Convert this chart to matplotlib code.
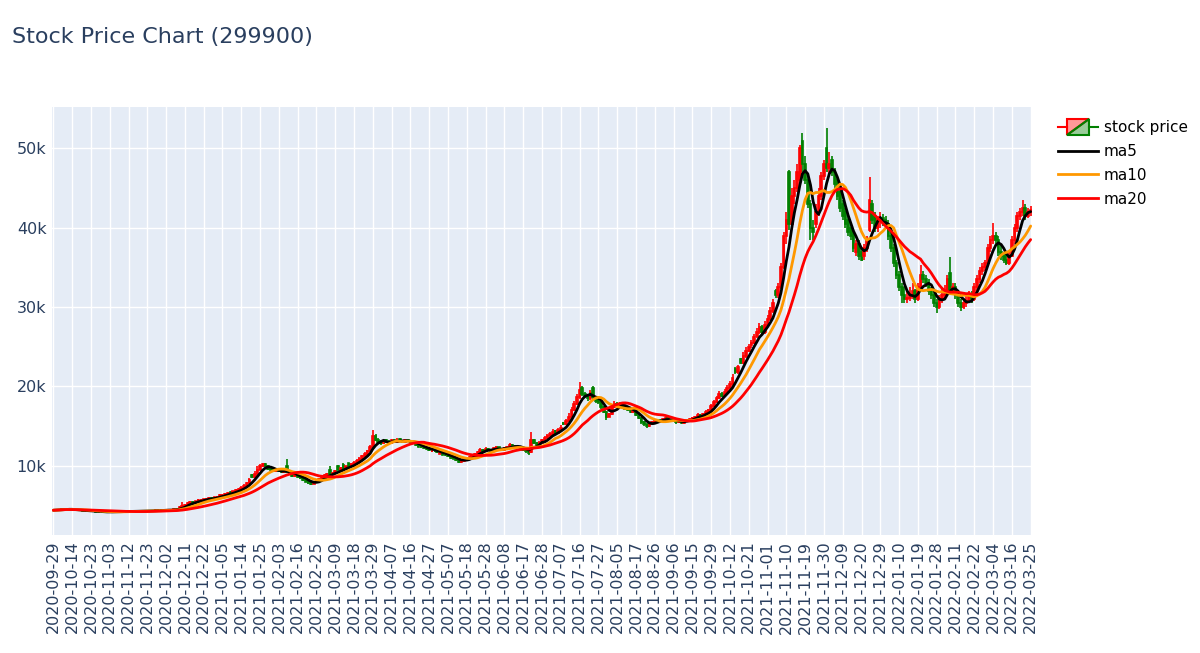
import numpy as np
import pandas as pd
import matplotlib
matplotlib.use("Agg")
import matplotlib.pyplot as plt
from matplotlib.legend_handler import HandlerBase
from matplotlib.lines import Line2D
from matplotlib.patches import Polygon

# ---------------- data ----------------
title = "Stock Price Chart (299900)"
krx_holidays = ["2020-09-30", "2020-10-01", "2020-10-02", "2020-10-09", "2020-12-25", "2020-12-31",
                "2021-01-01", "2021-02-11", "2021-02-12", "2021-03-01", "2021-05-05", "2021-05-19",
                "2021-08-16", "2021-09-20", "2021-09-21", "2021-09-22", "2021-10-04", "2021-10-11",
                "2021-12-31", "2022-01-31", "2022-02-01", "2022-02-02", "2022-03-01", "2022-03-09"]
dates = pd.bdate_range("2020-09-29", "2022-03-25", freq="C", holidays=krx_holidays)
date_labels = list(dates.strftime("%Y-%m-%d"))

opens = [
    4350, 4380, 4420, 4450, 4500, 4560, 4520,
    4480, 4450, 4400, 4380, 4350, 4320, 4300,
    4280, 4250, 4230, 4200, 4180, 4150, 4160,
    4170, 4180, 4200, 4190, 4210, 4200, 4220,
    4230, 4240, 4250, 4260, 4240, 4280, 4300,
    4290, 4310, 4330, 4300, 4350, 4400, 4360,
    4400, 4420, 4450, 4400, 4480, 4550, 4750,
    4950, 5100, 5300, 5450, 5350, 5500, 5650,
    5700, 5750, 5800, 5950, 5850, 6000, 6100,
    6250, 6300, 6400, 6650, 6600, 6750, 6950,
    7000, 7200, 7500, 7800, 8800, 8600, 9000,
    9500, 9900, 10200, 10000, 9600, 9400, 9300,
    9400, 9300, 9200, 10000, 9200, 8900, 8700,
    8900, 8600, 8400, 8200, 8000, 7800, 7700,
    7900, 8100, 8300, 8600, 8800, 9500, 8900,
    9100, 9900, 9500, 10100, 9600, 10300, 10000,
    10200, 10400, 10600, 10900, 11200, 11500, 11800,
    12300, 13800, 13300, 13000, 12800, 13200, 13000,
    12900, 13300, 13000, 13400, 13100, 13000, 13300,
    13100, 13000, 12800, 12600, 12400, 12300, 12200,
    12100, 11800, 11900, 11800, 11500, 11600, 11400,
    11300, 11200, 11000, 10900, 10700, 10500, 10600,
    10800, 10900, 11100, 11300, 11500, 11700, 12000,
    11900, 12100, 12000, 11900, 12200, 12300, 12100,
    12000, 12200, 12400, 12600, 12500, 12400, 12300,
    12200, 12000, 11800, 11700, 13200, 12800, 12600,
    12900, 13200, 13500, 13800, 14000, 14400, 14100,
    14500, 15400, 15200, 15600, 16200, 17000, 17800,
    18600, 19800, 19000, 18800, 18500, 19800, 18600,
    18200, 18000, 17400, 16800, 16200, 16500, 17400,
    17800, 17600, 17800, 17500, 17200, 17000, 16800,
    16900, 16400, 16000, 15500, 15200, 15000, 15300,
    15500, 15700, 15800, 15600, 15900, 16000, 15800,
    15700, 15600, 15500, 15700, 15400, 15600, 15800,
    15900, 16000, 16200, 16400, 16300, 16500, 16800,
    17000, 17500, 18000, 18500, 19000, 18800, 19300,
    19800, 20300, 22200, 21800, 23400, 23000, 23800,
    24500, 25200, 25500, 26400, 26800, 27500, 26800,
    27800, 28500, 29500, 32000, 31500, 32500, 35000,
    39000, 47000, 40500, 44000, 45000, 46000, 51000,
    48000, 46000, 43000, 40000, 40500, 42000, 44000,
    46500, 50000, 47500, 48500, 47000, 46000, 44500,
    43000, 42000, 41000, 40000, 39500, 37000, 38000,
    37000, 36500, 37500, 39700, 43000, 41500, 40000,
    40800, 41200, 41000, 40500, 39000, 37500, 35500,
    34000, 32500, 31500, 31000, 31200, 31500, 32000,
    31000, 32500, 34000, 33500, 33000, 32000, 31500,
    30500, 30000, 31000, 31500, 32000, 34300, 32000,
    32500, 31500, 30500, 30000, 30500, 30800, 31500,
    31000, 32500, 33500, 34500, 35000, 35500, 37500,
    38500, 39000, 38500, 37000, 36500, 36000, 35500,
    36500, 38500, 40000, 41500, 42000, 42500, 41500,
    42000,
]
highs = [
    4400, 4450, 4480, 4530, 4600, 4580, 4540,
    4500, 4470, 4420, 4400, 4370, 4340, 4320,
    4300, 4270, 4250, 4220, 4200, 4180, 4190,
    4200, 4220, 4210, 4230, 4220, 4240, 4250,
    4260, 4270, 4280, 4270, 4300, 4320, 4310,
    4330, 4360, 4340, 4370, 4400, 4420, 4420,
    4450, 4480, 4460, 4500, 4600, 4900, 5400,
    5200, 5400, 5500, 5500, 5600, 5800, 5850,
    5850, 5900, 6000, 6000, 6100, 6200, 6400,
    6450, 6500, 6700, 6750, 6850, 7050, 7200,
    7400, 7700, 8000, 8400, 8900, 9300, 9900,
    10200, 10400, 10300, 10100, 9700, 9500, 9500,
    9500, 9400, 9500, 10800, 9300, 9000, 9000,
    9000, 8700, 8500, 8300, 8100, 7900, 8000,
    8200, 8400, 8700, 8900, 9100, 9900, 9200,
    9400, 10100, 9800, 10300, 10000, 10400, 10300,
    10600, 10800, 11100, 11400, 11700, 12000, 12600,
    14500, 14000, 13500, 13200, 13300, 13400, 13200,
    13400, 13400, 13500, 13500, 13200, 13400, 13400,
    13300, 13100, 12900, 12700, 12500, 12400, 12300,
    12200, 12000, 12000, 11900, 11700, 11700, 11500,
    11400, 11300, 11100, 11000, 10800, 10700, 10900,
    11000, 11200, 11400, 11600, 11800, 12200, 12100,
    12300, 12200, 12100, 12400, 12500, 12400, 12200,
    12300, 12500, 12800, 12700, 12600, 12500, 12400,
    12300, 12100, 11900, 14300, 13400, 13000, 13100,
    13400, 13700, 14000, 14300, 14600, 14500, 14800,
    15100, 15500, 15900, 16600, 17400, 18200, 19000,
    20600, 20100, 19300, 19000, 19600, 20000, 18800,
    18400, 18100, 17500, 16900, 16700, 17600, 18100,
    18000, 18000, 17900, 17600, 17300, 17100, 17100,
    17000, 16500, 16100, 15600, 15300, 15400, 15600,
    15800, 15900, 15900, 16000, 16100, 16100, 15900,
    15800, 15700, 15800, 15800, 15700, 15900, 16000,
    16100, 16300, 16600, 16500, 16700, 17000, 17200,
    17800, 18300, 18800, 19400, 19300, 19700, 20200,
    20700, 21500, 22400, 22700, 23600, 24300, 25000,
    25400, 25900, 26600, 27300, 28000, 27700, 28300,
    29000, 30000, 31000, 32300, 33000, 35500, 39500,
    42000, 47300, 45000, 46000, 48000, 50500, 52000,
    49000, 46500, 43500, 41000, 43000, 45000, 47000,
    48500, 52600, 49500, 49000, 47500, 46500, 45000,
    43500, 42500, 41500, 40500, 40000, 38500, 38500,
    37500, 38000, 39000, 46400, 43500, 42000, 41500,
    42000, 41800, 41500, 41000, 39500, 38000, 36000,
    34500, 33000, 32500, 32000, 32500, 33000, 32300,
    33000, 35300, 34500, 34000, 33500, 32500, 32000,
    31000, 31500, 32500, 32800, 34000, 36300, 33000,
    33000, 32000, 31000, 31000, 31500, 32000, 32000,
    33000, 34000, 35000, 35500, 36000, 38000, 39000,
    40600, 39500, 39000, 37800, 37000, 36800, 37000,
    39000, 40500, 42000, 42500, 43500, 43000, 42500,
    42800,
]
lows = [
    4320, 4360, 4400, 4430, 4480, 4500, 4460,
    4430, 4380, 4360, 4330, 4300, 4280, 4260,
    4230, 4210, 4180, 4160, 4130, 4140, 4150,
    4150, 4170, 4170, 4180, 4180, 4190, 4200,
    4210, 4220, 4230, 4220, 4230, 4260, 4270,
    4280, 4300, 4280, 4290, 4330, 4340, 4350,
    4380, 4400, 4380, 4390, 4460, 4530, 4720,
    4900, 5050, 5250, 5300, 5300, 5450, 5600,
    5650, 5700, 5750, 5800, 5800, 5950, 6050,
    6200, 6250, 6350, 6500, 6550, 6700, 6850,
    6950, 7100, 7400, 7700, 8500, 8500, 8900,
    9400, 9800, 9900, 9500, 9300, 9200, 9200,
    9200, 9100, 9100, 9100, 8800, 8600, 8600,
    8500, 8300, 8100, 7900, 7700, 7550, 7650,
    7800, 8000, 8200, 8500, 8700, 8800, 8800,
    9000, 9400, 9400, 9500, 9500, 9900, 9900,
    10100, 10300, 10500, 10800, 11100, 11400, 11700,
    12200, 13100, 12800, 12600, 12700, 12900, 12700,
    12800, 12900, 12900, 13000, 12900, 12900, 13000,
    12900, 12700, 12500, 12300, 12200, 12100, 12000,
    11900, 11750, 11700, 11600, 11450, 11300, 11200,
    11100, 10900, 10800, 10600, 10300, 10400, 10500,
    10700, 10800, 11000, 11200, 11400, 11600, 11800,
    11800, 11900, 11800, 11800, 12100, 12000, 11900,
    11900, 12100, 12300, 12400, 12300, 12200, 12100,
    11900, 11600, 11300, 11600, 12700, 12500, 12500,
    12800, 13100, 13400, 13700, 13900, 14000, 14000,
    14400, 15100, 15100, 15500, 16100, 16900, 17600,
    18400, 18800, 18500, 18200, 18300, 18400, 17900,
    17800, 17200, 16600, 15800, 16100, 16400, 17300,
    17400, 17500, 17400, 17100, 16900, 16700, 16700,
    16300, 15900, 15300, 15000, 14700, 14900, 15200,
    15400, 15600, 15500, 15500, 15800, 15700, 15600,
    15500, 15300, 15400, 15300, 15300, 15500, 15700,
    15800, 15900, 16100, 16200, 16200, 16400, 16700,
    16900, 17400, 17900, 18400, 18600, 18700, 19200,
    19600, 20100, 21600, 21600, 22800, 22800, 23600,
    24300, 24900, 25300, 26100, 26600, 26500, 26600,
    27500, 28200, 29300, 31200, 31200, 32300, 34800,
    38000, 39700, 40000, 43000, 44500, 45500, 47000,
    45500, 42500, 38500, 38500, 40000, 41500, 43500,
    46000, 47000, 46500, 46500, 45000, 43500, 42000,
    41000, 40000, 39000, 38500, 37000, 36500, 36000,
    35800, 36000, 37000, 39500, 40500, 39500, 39500,
    40000, 40200, 40000, 38500, 37000, 35000, 33500,
    32000, 30500, 30500, 30500, 30800, 31000, 30500,
    30800, 32000, 33000, 32500, 31500, 31000, 30000,
    29300, 29800, 30500, 31000, 31500, 31800, 31500,
    31000, 30000, 29500, 29800, 30000, 30500, 30500,
    30800, 32000, 33000, 34000, 34500, 35300, 37000,
    38000, 38000, 36500, 36000, 35500, 35300, 35300,
    36300, 38000, 39500, 41000, 41500, 41000, 41200,
    41500,
]
closes = [
    4380, 4420, 4450, 4500, 4550, 4520, 4480,
    4450, 4400, 4380, 4350, 4320, 4300, 4280,
    4250, 4230, 4200, 4180, 4150, 4160, 4170,
    4180, 4200, 4190, 4210, 4200, 4220, 4230,
    4240, 4250, 4260, 4240, 4280, 4300, 4290,
    4310, 4330, 4300, 4350, 4380, 4360, 4400,
    4420, 4450, 4400, 4480, 4550, 4750, 4950,
    5100, 5300, 5400, 5350, 5500, 5650, 5700,
    5750, 5800, 5900, 5850, 6000, 6100, 6250,
    6300, 6400, 6550, 6600, 6750, 6900, 7000,
    7200, 7500, 7800, 8200, 8600, 9000, 9500,
    9900, 10200, 10000, 9600, 9400, 9300, 9400,
    9300, 9200, 9400, 9200, 8900, 8700, 8900,
    8600, 8400, 8200, 8000, 7800, 7700, 7900,
    8100, 8300, 8600, 8800, 9000, 8900, 9100,
    9300, 9500, 9700, 9600, 9900, 10000, 10200,
    10400, 10600, 10900, 11200, 11500, 11800, 12300,
    13800, 13300, 13000, 12800, 13100, 13000, 12900,
    13200, 13000, 13300, 13100, 13000, 13200, 13100,
    13000, 12800, 12600, 12400, 12300, 12200, 12100,
    12000, 11900, 11800, 11700, 11600, 11400, 11300,
    11200, 11000, 10900, 10700, 10500, 10600, 10800,
    10900, 11100, 11300, 11500, 11700, 12000, 11900,
    12100, 12000, 11900, 12200, 12300, 12100, 12000,
    12200, 12400, 12600, 12500, 12400, 12300, 12200,
    12000, 11800, 11600, 13200, 12800, 12600, 12900,
    13200, 13500, 13800, 14000, 14300, 14100, 14500,
    14800, 15200, 15600, 16200, 17000, 17800, 18600,
    19500, 19000, 18800, 18500, 19200, 18600, 18200,
    18000, 17400, 16800, 16200, 16500, 17400, 17800,
    17600, 17800, 17500, 17200, 17000, 16800, 16900,
    16400, 16000, 15500, 15200, 15000, 15300, 15500,
    15700, 15800, 15600, 15900, 16000, 15800, 15700,
    15600, 15500, 15700, 15400, 15600, 15800, 15900,
    16000, 16200, 16400, 16300, 16500, 16800, 17000,
    17500, 18000, 18500, 19000, 18800, 19300, 19800,
    20300, 21000, 21800, 22500, 23000, 23800, 24500,
    25000, 25500, 26200, 26800, 27500, 26800, 27800,
    28500, 29500, 30500, 31500, 32500, 35000, 39000,
    41000, 40500, 44000, 45000, 47000, 50000, 48000,
    46000, 43000, 40000, 39500, 42000, 44000, 46500,
    48000, 47500, 48000, 47000, 45500, 44000, 42500,
    41500, 40500, 39500, 39000, 37500, 38000, 36500,
    36000, 37500, 38500, 43500, 41000, 40000, 41000,
    41000, 40800, 40500, 39000, 37500, 35500, 34000,
    32500, 31500, 31000, 31200, 31500, 32000, 31000,
    32500, 34000, 33500, 33000, 32000, 31500, 30500,
    30000, 31000, 31500, 32000, 33500, 32000, 32500,
    31500, 30500, 30000, 30500, 30800, 31500, 31000,
    32500, 33500, 34500, 35000, 35500, 37500, 38500,
    39000, 38500, 37000, 36500, 36000, 35500, 36500,
    38500, 40000, 41500, 42000, 42500, 41500, 42000,
    42200,
]
ma_windows = [5, 10, 20]
ma_names = ["ma5", "ma10", "ma20"]
ma_colors = ["#000000", "#FF9800", "#FF0000"]
ytick_vals = [10000, 20000, 30000, 40000, 50000]
ytick_labels = ["10k", "20k", "30k", "40k", "50k"]

# ---------------- figure ----------------
W, H = 1200, 653
fig = plt.figure(figsize=(W / 100, H / 100), dpi=100)
fig.patch.set_facecolor("white")
L, R, T, B = 52, 1032, 107, 535
ax = fig.add_axes([L / W, 1 - B / H, (R - L) / W, (B - T) / H])
ax.set_facecolor("#E5ECF6")
for s in ax.spines.values():
    s.set_visible(False)

n = min(len(date_labels), len(closes))
x = np.arange(n)
o = np.array(opens[:n], float)
h = np.array(highs[:n], float)
l = np.array(lows[:n], float)
c = np.array(closes[:n], float)
up = c >= o
inc_col, dec_col = "#FF0000", "#008000"
line_cols = np.where(up, inc_col, dec_col)
fill_cols = [(1, 0, 0, 0.5) if u else (0, 0.5, 0, 0.5) for u in up]

ax.vlines(x, l, h, colors=line_cols, linewidth=1.2, zorder=2)
ax.bar(x, np.abs(c - o), bottom=np.minimum(o, c), width=0.6,
       color=fill_cols, edgecolor=line_cols, linewidth=1.2, zorder=2)

s_close = pd.Series(c)
for win, name, col in zip(ma_windows, ma_names, ma_colors):
    ma = s_close.rolling(win, min_periods=1).mean()
    ax.plot(x, ma, color=col, linewidth=2.0, zorder=3, solid_capstyle="round")

ax.set_xlim(-0.5, n - 0.5)
ax.set_ylim(1260, 55230)
tick_pos = list(range(0, n, 7))
ax.set_xticks(tick_pos)
ax.set_xticklabels([date_labels[i] for i in tick_pos], rotation=90)
ax.set_yticks(ytick_vals)
ax.set_yticklabels(ytick_labels)
ax.tick_params(axis="both", length=0, labelsize=11.5, labelcolor="#2a3f5f")
ax.tick_params(axis="x", pad=4)
ax.tick_params(axis="y", pad=4)
ax.grid(True, color="white", linewidth=1.0)
ax.set_axisbelow(True)

fig.text(12 / W, 1 - 43 / H, title, fontsize=16, color="#2a3f5f", va="baseline", ha="left")


# ---------------- legend ----------------
class CandleKey:
    pass


class CandleHandler(HandlerBase):
    def create_artists(self, legend, orig_handle, xdescent, ydescent, width, height, fontsize, trans):
        x0 = -xdescent
        y0 = -ydescent
        cy = y0 + height / 2
        bx0 = x0 + 0.23 * width
        bx1 = x0 + 0.77 * width
        bh = height * 1.5
        by0 = cy - bh / 2
        by1 = cy + bh / 2
        arts = [
            Line2D([x0, bx0], [cy, cy], color=inc_col, lw=1.5, transform=trans),
            Line2D([bx1, x0 + width], [cy, cy], color=dec_col, lw=1.5, transform=trans),
            Polygon([[bx0, by0], [bx0, by1], [bx1, by1]], closed=True, facecolor=(1, 0, 0, 0.4),
                    edgecolor=inc_col, lw=1.5, transform=trans),
            Polygon([[bx0, by0], [bx1, by0], [bx1, by1]], closed=True, facecolor=(0, 0.5, 0, 0.4),
                    edgecolor=dec_col, lw=1.5, transform=trans),
        ]
        return arts


handles = [CandleKey()] + [Line2D([], [], color=col, lw=2.0) for col in ma_colors]
labels = ["stock price"] + ma_names
fig.legend(handles, labels, loc="upper left", bbox_to_anchor=(1058 / W, 1 - 120 / H),
           frameon=False, fontsize=11, handlelength=2.6, handletextpad=0.4,
           labelspacing=0.58, borderpad=0, borderaxespad=0,
           handler_map={CandleKey: CandleHandler()})

fig.savefig("out.png", dpi=100)
